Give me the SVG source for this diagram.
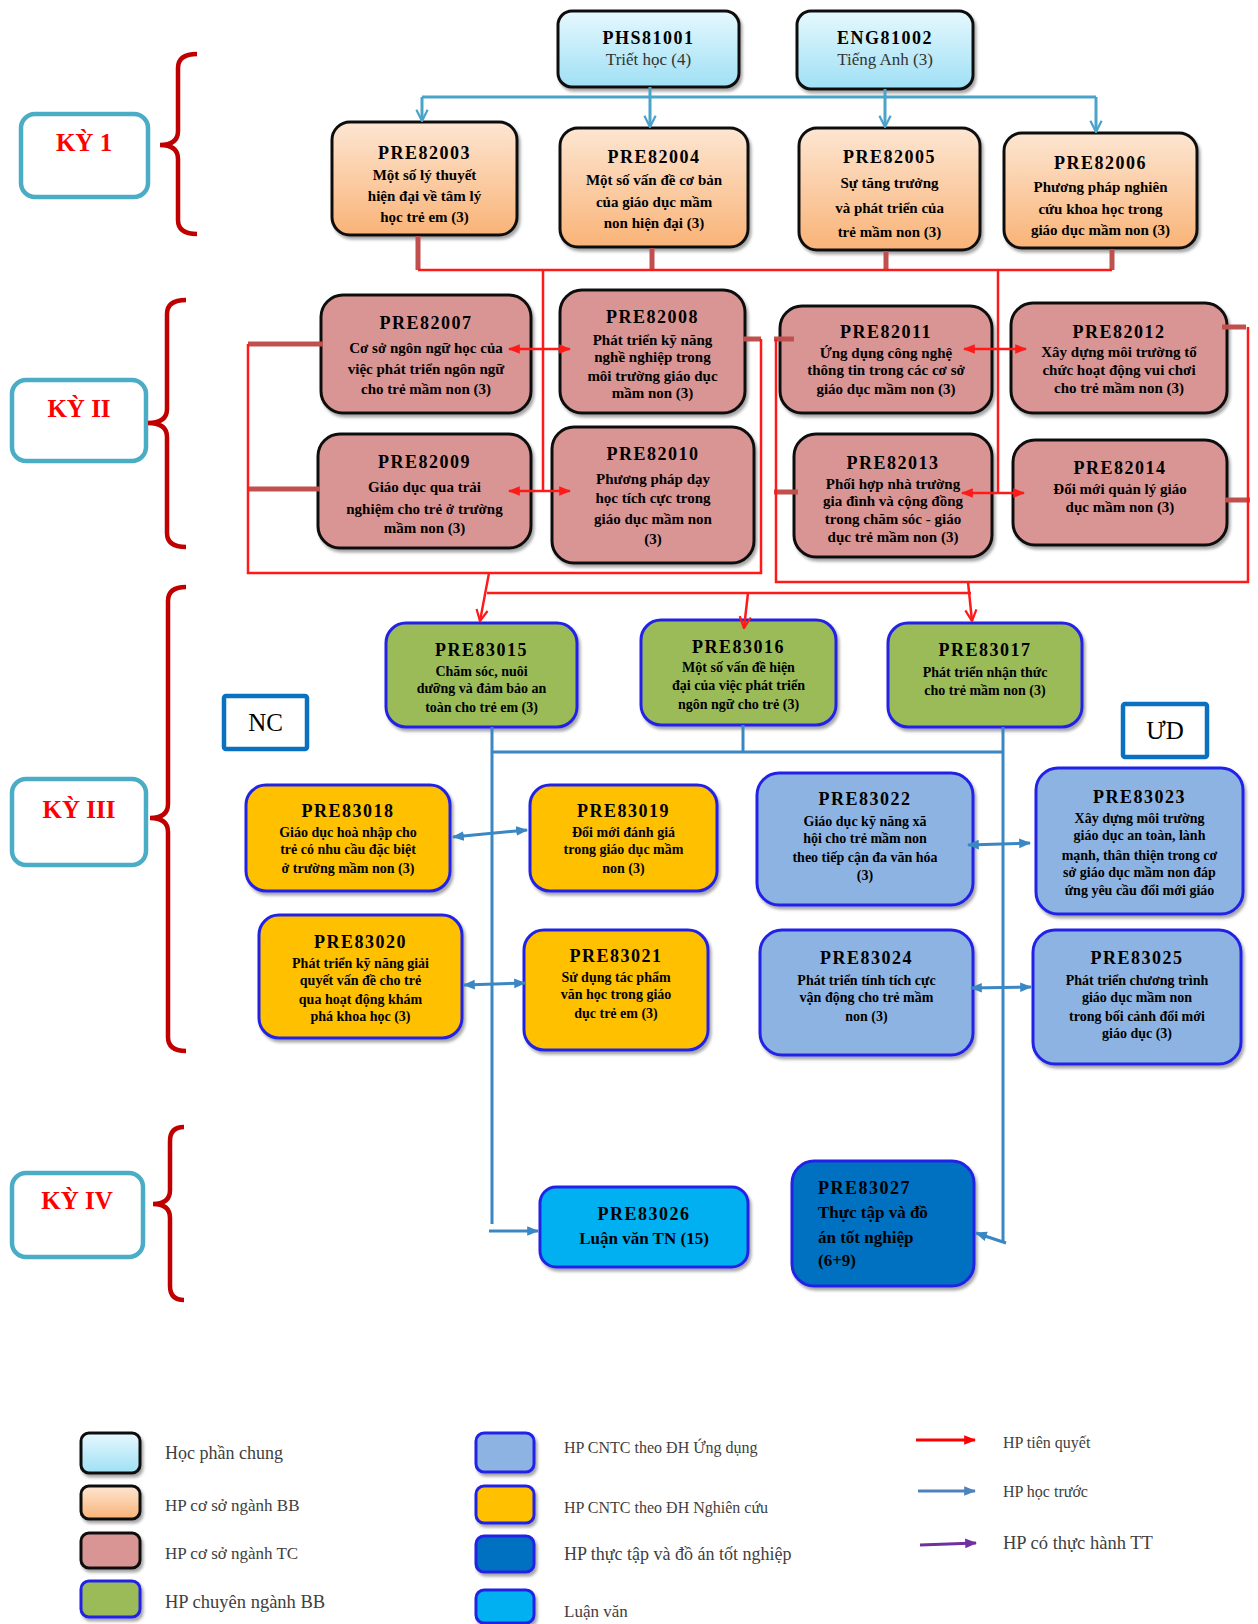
<svg xmlns="http://www.w3.org/2000/svg" width="1258" height="1624" viewBox="0 0 1258 1624">
<defs>
<linearGradient id="gBlue" x1="0" y1="0" x2="0" y2="1"><stop offset="0" stop-color="#e6f8fe"/><stop offset="1" stop-color="#9fe0f5"/></linearGradient>
<linearGradient id="gPeach" x1="0" y1="0" x2="0" y2="1"><stop offset="0" stop-color="#fde6d2"/><stop offset="1" stop-color="#f9b377"/></linearGradient>
<filter id="sh" x="-10%" y="-10%" width="125%" height="130%"><feDropShadow dx="2" dy="3" stdDeviation="1.6" flood-color="#000" flood-opacity="0.35"/></filter>
<marker id="vB" viewBox="0 0 10 10" refX="9" refY="5" markerWidth="14" markerHeight="14" markerUnits="userSpaceOnUse" orient="auto"><path d="M1,1 L9,5 L1,9" fill="none" stroke="#4aa3c8" stroke-width="1.6"/></marker>
<marker id="vR" viewBox="0 0 10 10" refX="9" refY="5" markerWidth="14" markerHeight="14" markerUnits="userSpaceOnUse" orient="auto"><path d="M1,1 L9,5 L1,9" fill="none" stroke="#ff1a1a" stroke-width="1.6"/></marker>
<marker id="tR" viewBox="0 0 10 10" refX="9" refY="5" markerWidth="12" markerHeight="12" markerUnits="userSpaceOnUse" orient="auto-start-reverse"><path d="M0,1 L10,5 L0,9 z" fill="#ff1a1a"/></marker>
<marker id="tB" viewBox="0 0 10 10" refX="9" refY="5" markerWidth="12" markerHeight="12" markerUnits="userSpaceOnUse" orient="auto-start-reverse"><path d="M0,1 L10,5 L0,9 z" fill="#3a87c4"/></marker>
<marker id="lR" viewBox="0 0 10 10" refX="9" refY="5" markerWidth="12" markerHeight="12" markerUnits="userSpaceOnUse" orient="auto"><path d="M0,1 L10,5 L0,9 z" fill="#ff0000"/></marker>
<marker id="lB" viewBox="0 0 10 10" refX="9" refY="5" markerWidth="12" markerHeight="12" markerUnits="userSpaceOnUse" orient="auto"><path d="M0,1 L10,5 L0,9 z" fill="#4f81bd"/></marker>
<marker id="lP" viewBox="0 0 10 10" refX="9" refY="5" markerWidth="12" markerHeight="12" markerUnits="userSpaceOnUse" orient="auto"><path d="M0,1 L10,5 L0,9 z" fill="#7030a0"/></marker>
<style>
.bk{stroke:#111;stroke-width:3;filter:url(#sh)}
.bl{stroke:#2424e6;stroke-width:3;filter:url(#sh)}
.fb{fill:url(#gBlue)}
.fp{fill:url(#gPeach)}
.fk{fill:#d99594}
.fg{fill:#9bbb59}
.fy{fill:#ffc000}
.fl{fill:#8db3e2}
.fc{fill:#00b0f0}
.fd{fill:#0070c0}
text{font-family:"Liberation Serif","DejaVu Serif",serif;fill:#000}
.c{font-size:18px;font-weight:bold;letter-spacing:1.5px;text-anchor:middle}
.d{font-size:15px;font-weight:bold;text-anchor:middle}
.s{font-size:14px;font-weight:bold;text-anchor:middle}
.t2{font-size:17px;text-anchor:middle;fill:#333}
.big{font-size:17px;font-weight:bold}
.sem{stroke:#4bacc6;stroke-width:4.5;fill:#fff}
.semt{font-size:25px;font-weight:bold;fill:#ff0000;text-anchor:middle}
.brace{fill:none;stroke:#c00000;stroke-width:4.5}
.tag{fill:#fff;stroke:#0a70c0;stroke-width:4.5}
.tagt{font-size:25px;text-anchor:middle}
.lg{font-size:17px;fill:#404040}
.rt{fill:none;stroke:#ff1a1a;stroke-width:2.5}
.rk{fill:none;stroke:#c0504d;stroke-width:5}
.bt{fill:none;stroke:#4aa3c8;stroke-width:3}
.bb{fill:none;stroke:#3a87c4;stroke-width:3}
</style>
</defs>
<rect width="1258" height="1624" fill="#fff"/>

<!-- semester labels -->
<g id="sem1"><rect class="sem" x="21" y="114" width="127" height="83" rx="14"/><text class="semt" x="84" y="151">KỲ 1</text></g>
<g id="sem2"><rect class="sem" x="12" y="380" width="134" height="81" rx="14"/><text class="semt" x="79" y="417">KỲ II</text></g>
<g id="sem3"><rect class="sem" x="12" y="779" width="134" height="86" rx="14"/><text class="semt" x="79" y="818">KỲ III</text></g>
<g id="sem4"><rect class="sem" x="12" y="1173" width="131" height="84" rx="14"/><text class="semt" x="77" y="1209">KỲ IV</text></g>
<g id="braces">
<path class="brace" d="M197,54 Q178,54 178,68 V131 Q178,145 160,145 Q178,145 178,159 V220 Q178,234 197,234"/>
<path class="brace" d="M186,300 Q167,300 167,314 V409 Q167,423 148,423 Q167,423 167,437 V533 Q167,547 186,547"/>
<path class="brace" d="M186,587 Q168,587 168,601 V804 Q168,818 150,818 Q168,818 168,832 V1037 Q168,1051 186,1051"/>
<path class="brace" d="M184,1127 Q170,1127 170,1141 V1190 Q170,1204 153,1204 Q170,1204 170,1218 V1286 Q170,1300 184,1300"/>
</g>
<g id="NC"><rect class="tag" x="224" y="696" width="83" height="53" rx="2"/><text class="tagt" x="265.5" y="731">NC</text></g>
<g id="UD"><rect class="tag" x="1123" y="704" width="84" height="53" rx="2"/><text class="tagt" x="1165" y="739">ƯD</text></g>

<!-- nodes -->
<g id="PHS81001"><rect class="bk fb" x="558" y="11" width="181" height="76" rx="14"/><text class="c" x="648.5" y="44">PHS81001</text><text class="t2" x="648.5" y="65">Triết học (4)</text></g>
<g id="ENG81002"><rect class="bk fb" x="797" y="11" width="176" height="78" rx="14"/><text class="c" x="885" y="44">ENG81002</text><text class="t2" x="885" y="65">Tiếng Anh (3)</text></g>

<g id="PRE82003"><rect class="bk fp" x="332" y="122" width="185" height="113" rx="18"/><text class="c" x="424.5" y="159">PRE82003</text><text class="d" x="424.5" y="180">Một số lý thuyết</text><text class="d" x="424.5" y="201">hiện đại về tâm lý</text><text class="d" x="424.5" y="222">học trẻ em (3)</text></g>
<g id="PRE82004"><rect class="bk fp" x="560" y="128" width="188" height="119" rx="18"/><text class="c" x="654" y="163">PRE82004</text><text class="d" x="654" y="185">Một số vấn đề cơ bản</text><text class="d" x="654" y="207">của giáo dục mầm</text><text class="d" x="654" y="228">non hiện đại (3)</text></g>
<g id="PRE82005"><rect class="bk fp" x="799" y="128" width="181" height="122" rx="18"/><text class="c" x="889.5" y="163">PRE82005</text><text class="d" x="889.5" y="188">Sự tăng trưởng</text><text class="d" x="889.5" y="213">và phát triển của</text><text class="d" x="889.5" y="237">trẻ mầm non (3)</text></g>
<g id="PRE82006"><rect class="bk fp" x="1004" y="133" width="193" height="115" rx="18"/><text class="c" x="1100.5" y="169">PRE82006</text><text class="d" x="1100.5" y="192">Phương pháp nghiên</text><text class="d" x="1100.5" y="214">cứu khoa học trong</text><text class="d" x="1100.5" y="235">giáo dục mầm non (3)</text></g>

<g id="PRE82007"><rect class="bk fk" x="321" y="295" width="210" height="118" rx="22"/><text class="c" x="426" y="329">PRE82007</text><text class="d" x="426" y="353">Cơ sở ngôn ngữ học của</text><text class="d" x="426" y="374">việc phát triển ngôn ngữ</text><text class="d" x="426" y="394">cho trẻ mầm non (3)</text></g>
<g id="PRE82008"><rect class="bk fk" x="560" y="290" width="185" height="123" rx="22"/><text class="c" x="652.5" y="323">PRE82008</text><text class="d" x="652.5" y="345">Phát triển kỹ năng</text><text class="d" x="652.5" y="362">nghề nghiệp trong</text><text class="d" x="652.5" y="381">môi trường giáo dục</text><text class="d" x="652.5" y="398">mầm non  (3)</text></g>
<g id="PRE82009"><rect class="bk fk" x="318" y="434" width="213" height="114" rx="22"/><text class="c" x="424.5" y="468">PRE82009</text><text class="d" x="424.5" y="492">Giáo dục qua trải</text><text class="d" x="424.5" y="514">nghiệm cho trẻ ở trường</text><text class="d" x="424.5" y="533">mầm non (3)</text></g>
<g id="PRE82010"><rect class="bk fk" x="552" y="427" width="202" height="136" rx="22"/><text class="c" x="653" y="460">PRE82010</text><text class="d" x="653" y="484">Phương pháp  dạy</text><text class="d" x="653" y="503">học tích cực trong</text><text class="d" x="653" y="524">giáo dục  mầm non</text><text class="d" x="653" y="544">(3)</text></g>
<g id="PRE82011"><rect class="bk fk" x="780" y="306" width="212" height="107" rx="22"/><text class="c" x="886" y="338">PRE82011</text><text class="d" x="886" y="358">Ứng dụng công nghệ</text><text class="d" x="886" y="375">thông tin trong các cơ sở</text><text class="d" x="886" y="394">giáo dục mầm non (3)</text></g>
<g id="PRE82012"><rect class="bk fk" x="1011" y="303" width="216" height="110" rx="22"/><text class="c" x="1119" y="338">PRE82012</text><text class="d" x="1119" y="357">Xây dựng môi trường tổ</text><text class="d" x="1119" y="375">chức hoạt động vui chơi</text><text class="d" x="1119" y="393">cho trẻ mầm non (3)</text></g>
<g id="PRE82013"><rect class="bk fk" x="794" y="434" width="198" height="123" rx="22"/><text class="c" x="893" y="469">PRE82013</text><text class="d" x="893" y="489">Phối hợp nhà trường</text><text class="d" x="893" y="506">gia đình và cộng đồng</text><text class="d" x="893" y="524">trong chăm sóc - giáo</text><text class="d" x="893" y="542">dục trẻ mầm non (3)</text></g>
<g id="PRE82014"><rect class="bk fk" x="1013" y="440" width="214" height="105" rx="22"/><text class="c" x="1120" y="474">PRE82014</text><text class="d" x="1120" y="494">Đổi mới quản lý giáo</text><text class="d" x="1120" y="512">dục mầm non  (3)</text></g>

<g id="PRE83015"><rect class="bl fg" x="386" y="623" width="191" height="104" rx="20"/><text class="c" x="481.5" y="656">PRE83015</text><text class="s" x="481.5" y="676">Chăm sóc, nuôi</text><text class="s" x="481.5" y="693">dưỡng và đảm bảo an</text><text class="s" x="481.5" y="712">toàn cho trẻ em (3)</text></g>
<g id="PRE83016"><rect class="bl fg" x="641" y="620" width="195" height="105" rx="20"/><text class="c" x="738.5" y="653">PRE83016</text><text class="s" x="738.5" y="672">Một số vấn đề hiện</text><text class="s" x="738.5" y="690">đại của việc phát triển</text><text class="s" x="738.5" y="709">ngôn ngữ cho trẻ (3)</text></g>
<g id="PRE83017"><rect class="bl fg" x="888" y="623" width="194" height="104" rx="20"/><text class="c" x="985" y="656">PRE83017</text><text class="s" x="985" y="677">Phát triển nhận thức</text><text class="s" x="985" y="695">cho trẻ mầm non (3)</text></g>

<g id="PRE83018"><rect class="bl fy" x="246" y="785" width="204" height="106" rx="20"/><text class="c" x="348" y="817">PRE83018</text><text class="s" x="348" y="837">Giáo dục hoà nhập cho</text><text class="s" x="348" y="854">trẻ có nhu cầu đặc biệt</text><text class="s" x="348" y="873">ở trường mầm non (3)</text></g>
<g id="PRE83019"><rect class="bl fy" x="530" y="785" width="187" height="106" rx="20"/><text class="c" x="623.5" y="817">PRE83019</text><text class="s" x="623.5" y="837">Đổi mới đánh giá</text><text class="s" x="623.5" y="854">trong giáo dục mầm</text><text class="s" x="623.5" y="873">non (3)</text></g>
<g id="PRE83020"><rect class="bl fy" x="259" y="915" width="203" height="123" rx="20"/><text class="c" x="360.5" y="948">PRE83020</text><text class="s" x="360.5" y="968">Phát triển kỹ năng giải</text><text class="s" x="360.5" y="985">quyết vấn đề cho trẻ</text><text class="s" x="360.5" y="1004">qua hoạt động khám</text><text class="s" x="360.5" y="1021">phá khoa học (3)</text></g>
<g id="PRE83021"><rect class="bl fy" x="524" y="930" width="184" height="120" rx="20"/><text class="c" x="616" y="962">PRE83021</text><text class="s" x="616" y="982">Sử dụng tác phẩm</text><text class="s" x="616" y="999">văn học trong giáo</text><text class="s" x="616" y="1018">dục trẻ em (3)</text></g>
<g id="PRE83022"><rect class="bl fl" x="757" y="773" width="216" height="132" rx="22"/><text class="c" x="865" y="805">PRE83022</text><text class="s" x="865" y="826">Giáo dục kỹ năng xã</text><text class="s" x="865" y="843">hội cho trẻ mầm non</text><text class="s" x="865" y="862">theo tiếp cận đa văn hóa</text><text class="s" x="865" y="880">(3)</text></g>
<g id="PRE83023"><rect class="bl fl" x="1036" y="768" width="207" height="146" rx="22"/><text class="c" x="1139.5" y="803">PRE83023</text><text class="s" x="1139.5" y="823">Xây dựng môi trường</text><text class="s" x="1139.5" y="840">giáo dục an toàn, lành</text><text class="s" x="1139.5" y="860">mạnh, thân thiện trong cơ</text><text class="s" x="1139.5" y="877">sở giáo dục mầm non đáp</text><text class="s" x="1139.5" y="895">ứng yêu cầu đổi mới giáo</text></g>
<g id="PRE83024"><rect class="bl fl" x="760" y="930" width="213" height="125" rx="22"/><text class="c" x="866.5" y="964">PRE83024</text><text class="s" x="866.5" y="985">Phát triển tính tích cực</text><text class="s" x="866.5" y="1002">vận động cho trẻ mầm</text><text class="s" x="866.5" y="1021">non (3)</text></g>
<g id="PRE83025"><rect class="bl fl" x="1033" y="930" width="208" height="134" rx="22"/><text class="c" x="1137" y="964">PRE83025</text><text class="s" x="1137" y="985">Phát triển chương trình</text><text class="s" x="1137" y="1002">giáo dục mầm non</text><text class="s" x="1137" y="1021">trong bối cảnh đổi mới</text><text class="s" x="1137" y="1038">giáo dục (3)</text></g>

<g id="PRE83026"><rect class="bl fc" x="540" y="1187" width="208" height="80" rx="16"/><text class="c" x="644" y="1220">PRE83026</text><text class="big" x="644" y="1244" text-anchor="middle">Luận văn TN (15)</text></g>
<g id="PRE83027"><rect class="bl fd" x="792" y="1161" width="182" height="125" rx="22"/><text class="c" x="818" y="1194" text-anchor="start" style="text-anchor:start">PRE83027</text><text class="big" x="818" y="1218">Thực tập và đồ</text><text class="big" x="818" y="1243">án tốt nghiệp</text><text class="big" x="818" y="1266">(6+9)</text></g>

<!-- connectors -->
<g id="connectors">
<path class="bt" d="M650,87 V97 M885,89 V97 M422,97 H1096"/>
<path class="bt" d="M422,97 V121" marker-end="url(#vB)"/>
<path class="bt" d="M650,97 V127" marker-end="url(#vB)"/>
<path class="bt" d="M885,97 V127" marker-end="url(#vB)"/>
<path class="bt" d="M1096,97 V132" marker-end="url(#vB)"/>

<path class="rk" d="M418,236 V270 M652,248 V270 M886,251 V270 M1112,249 V270"/>
<path class="rt" d="M418,270 H1112 M543,270 V491 M998,270 V493"/>
<path class="rt" d="M509,349 H570" marker-start="url(#tR)" marker-end="url(#tR)"/>
<path class="rt" d="M509,491 H570" marker-start="url(#tR)" marker-end="url(#tR)"/>
<path class="rt" d="M964,349 H1026" marker-start="url(#tR)" marker-end="url(#tR)"/>
<path class="rt" d="M962,493 H1024" marker-start="url(#tR)" marker-end="url(#tR)"/>

<path class="rk" d="M248,344 H323 M248,489 H320 M743,339 H761 M774,339 H794 M774,492 H798 M1222,327 H1246 M1225,500 H1250"/>
<path class="rt" d="M248,344 V573 H761 V339 M776,339 V582 H1248 V327"/>
<path class="rt" d="M489,573 L480,621" marker-end="url(#vR)"/>
<path class="rt" d="M487,593 H971"/>
<path class="rt" d="M748,593 L744,628" marker-end="url(#vR)"/>
<path class="rt" d="M968,582 L972,621" marker-end="url(#vR)"/>

<path class="bb" d="M492,727 V1224 M743,725 V752 M492,752 H1003 M1003,727 V1243"/>
<path class="bb" d="M489,1231 H538" marker-end="url(#tB)"/>
<path class="bb" d="M1006,1243 L976,1233" marker-end="url(#tB)"/>
<path class="bb" d="M453,837 L527,830" marker-start="url(#tB)" marker-end="url(#tB)"/>
<path class="bb" d="M464,985 L525,983" marker-start="url(#tB)" marker-end="url(#tB)"/>
<path class="bb" d="M968,845 L1030,843" marker-start="url(#tB)" marker-end="url(#tB)"/>
<path class="bb" d="M971,988 L1031,987" marker-start="url(#tB)" marker-end="url(#tB)"/>
</g>

<!-- legend -->
<g id="legend">
<rect class="bk fb" x="81" y="1433" width="59" height="40" rx="8"/><text class="lg" x="165" y="1459" style="font-size:18px">Học phần chung</text>
<rect class="bk fp" x="81" y="1486" width="59" height="33" rx="8"/><text class="lg" x="165" y="1511">HP cơ sở ngành BB</text>
<rect class="bk fk" x="81" y="1533" width="59" height="35" rx="8"/><text class="lg" x="165" y="1559">HP cơ sở ngành TC</text>
<rect class="bl fg" x="81" y="1581" width="59" height="36" rx="8"/><text class="lg" x="165" y="1608" style="font-size:18.5px">HP chuyên ngành BB</text>
<rect class="bl fl" x="476" y="1433" width="58" height="39" rx="8"/><text class="lg" x="564" y="1453" style="font-size:16px">HP CNTC theo ĐH Ứng dụng</text>
<rect class="bl fy" x="476" y="1486" width="58" height="37" rx="8"/><text class="lg" x="564" y="1513" style="font-size:16px">HP CNTC theo ĐH Nghiên cứu</text>
<rect class="bl fd" x="476" y="1536" width="58" height="36" rx="8"/><text class="lg" x="564" y="1560" style="font-size:18px">HP thực tập và đồ án tốt nghiệp</text>
<rect class="bl fc" x="476" y="1590" width="58" height="33" rx="8"/><text class="lg" x="564" y="1617">Luận văn</text>
<path d="M916,1440 H975" stroke="#ff0000" stroke-width="3" marker-end="url(#lR)"/><text class="lg" x="1003" y="1448" style="font-size:16px">HP tiên quyết</text>
<path d="M918,1491 H975" stroke="#4f81bd" stroke-width="3" marker-end="url(#lB)"/><text class="lg" x="1003" y="1497" style="font-size:16px">HP học trước</text>
<path d="M920,1545 L976,1543" stroke="#7030a0" stroke-width="3" marker-end="url(#lP)"/><text class="lg" x="1003" y="1549" style="font-size:18.5px">HP có thực hành TT</text>
</g>
</svg>
